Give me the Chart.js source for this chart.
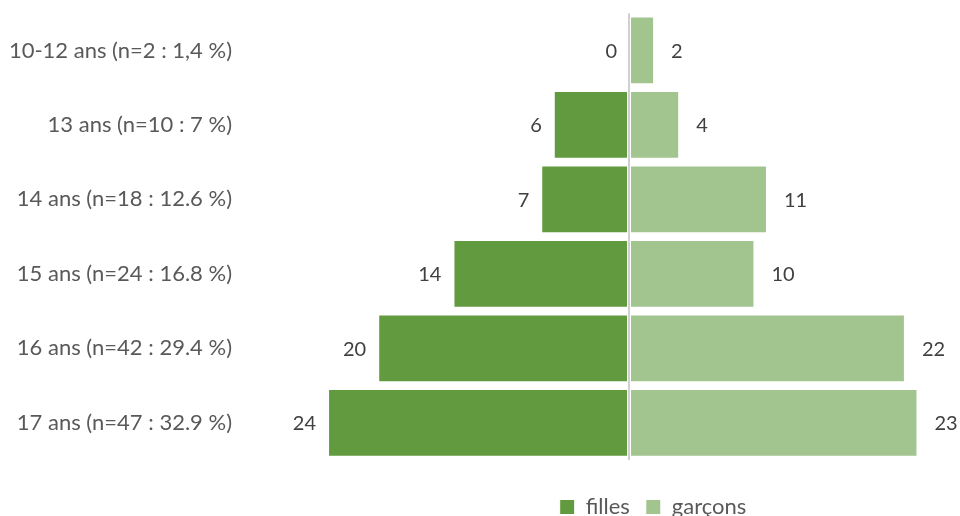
<!DOCTYPE html>
<html>
<head>
<meta charset="utf-8">
<script src="https://cdn.jsdelivr.net/npm/chart.js@4"></script>
<style>
  html, body { margin: 0; padding: 0; background: #fff; overflow: hidden; }
  canvas { display: block; }
</style>
</head>
<body>
<canvas id="pyramide" width="960" height="516"></canvas>
<script>
// Données
const categories = ['10-12 ans (n=2 : 1,4 %)', '13 ans (n=10 : 7 %)', '14 ans (n=18 : 12.6 %)',
                    '15 ans (n=24 : 16.8 %)', '16 ans (n=42 : 29.4 %)', '17 ans (n=47 : 32.9 %)'];
const filles = [0, 6, 7, 14, 20, 24];
const garcons = [2, 4, 11, 10, 22, 23];
const xMin = -31.66;
const xMax = 24;

const police = 'Lato, "Open Sans", sans-serif';

// Étiquettes de valeur à l'extrémité des barres
const valeurs = {
    id: 'valeurs',
    afterDatasetsDraw(chart) {
        const ctx = chart.ctx;
        ctx.save();
        ctx.font = '20px ' + police;
        ctx.fillStyle = '#404040';
        ctx.textBaseline = 'middle';
        chart.data.datasets.forEach((ds, i) => {
            chart.getDatasetMeta(i).data.forEach((bar, j) => {
                const v = Math.abs(ds.data[j]);
                if (i === 0) {
                    ctx.textAlign = 'right';
                    ctx.fillText(v, bar.x - 12, bar.y + 1);
                } else {
                    ctx.textAlign = 'left';
                    ctx.fillText(v, bar.x + 17, bar.y + 1);
                }
            });
        });
        ctx.restore();
    }
};

// Légende décalée vers la droite comme dans l'original
const decaleLegende = {
    id: 'decaleLegende',
    afterLayout(chart) {
        chart.legend.left += 188;
        chart.legend.right += 188;
    }
};

const ctx = document.getElementById('pyramide').getContext('2d');
new Chart(ctx, {
    type: 'bar',
    data: {
        labels: categories,
        datasets: [{
            label: 'filles',
            data: filles.map(v => -v),
            backgroundColor: '#629b3f',
            borderColor: '#ffffff',
            borderWidth: 1,
            borderSkipped: false
        }, {
            label: 'garçons',
            data: garcons,
            backgroundColor: '#a2c58f',
            borderColor: '#ffffff',
            borderWidth: 1,
            borderSkipped: false
        }]
    },
    options: {
        indexAxis: 'y',
        responsive: false,
        animation: false,
        layout: { padding: { top: 13, right: 30, bottom: -12, left: 0 } },
        datasets: { bar: { categoryPercentage: 1, barPercentage: 0.91 } },
        scales: {
            x: {
                stacked: true,
                min: xMin,
                max: xMax,
                ticks: { display: false },
                border: { display: false },
                grid: {
                    drawTicks: false,
                    color: c => c.tick && c.tick.value === 0 ? '#d0d0d0' : 'rgba(0,0,0,0)',
                    lineWidth: 2
                },
                afterBuildTicks: s => { s.ticks = [{ value: 0 }]; }
            },
            y: {
                stacked: true,
                afterFit: s => { s.width = 232; },
                ticks: {
                    padding: 0,
                    color: '#595959',
                    font: { family: police, size: 22 }
                },
                border: { display: false },
                grid: { display: false, drawTicks: false }
            }
        },
        plugins: {
            legend: {
                position: 'bottom',
                title: { display: true, text: ' ', font: { size: 10 }, padding: { top: 0, bottom: 8 } },
                labels: {
                    boxWidth: 15,
                    boxHeight: 15,
                    padding: 16,
                    color: '#595959',
                    font: { family: police, size: 22 }
                }
            },
            tooltip: { enabled: false }
        }
    },
    plugins: [valeurs, decaleLegende]
});
</script>
</body>
</html>
